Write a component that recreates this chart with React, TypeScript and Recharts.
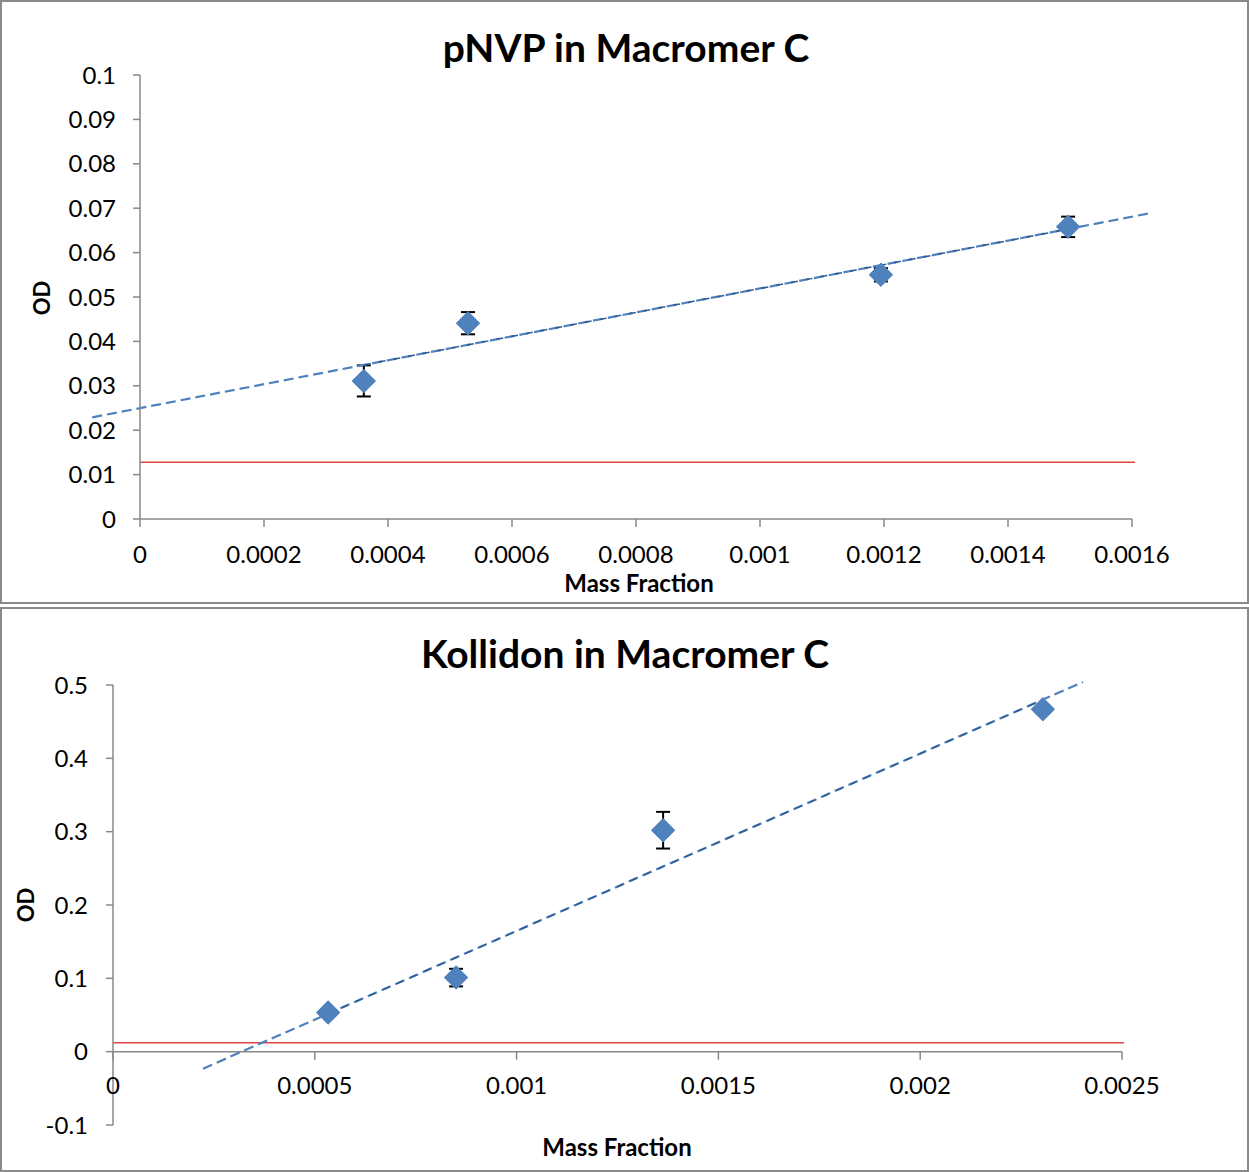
import React from "react";
import { ScatterChart, Scatter, XAxis, YAxis, ErrorBar, ReferenceLine } from "recharts";

const FONT = "Lato, 'Open Sans', sans-serif";
const BLUE = "#4F81BD";
const DARK_BLUE = "#2F5C91";
const RED = "#E0453F";
const AXIS = "#888888";

// pNVP in Macromer C
const pnvpMass = [0.000361, 0.000529, 0.001195, 0.001497];
const pnvpOD = [0.0311, 0.0441, 0.055, 0.0658];
const pnvpErr = [0.0035, 0.0025, 0.0015, 0.0023];
const pnvpTrendX = [-0.000077, 0.00163];
const pnvpTrendY = [0.0229, 0.0689];
const pnvpFitX = [0.000361, 0.001497];
const pnvpFitY = [0.0347, 0.0653];
const pnvpBlankX = [0, 0.001605];
const pnvpBlankY = 0.0128;
const pnvpXTicks = [0, 0.0002, 0.0004, 0.0006, 0.0008, 0.001, 0.0012, 0.0014, 0.0016];
const pnvpXLabels = ["0", "0.0002", "0.0004", "0.0006", "0.0008", "0.001", "0.0012", "0.0014", "0.0016"];
const pnvpYTicks = [0, 0.01, 0.02, 0.03, 0.04, 0.05, 0.06, 0.07, 0.08, 0.09, 0.1];
const pnvpYLabels = ["0", "0.01", "0.02", "0.03", "0.04", "0.05", "0.06", "0.07", "0.08", "0.09", "0.1"];

// Kollidon in Macromer C
const kolMass = [0.000533, 0.00085, 0.001363, 0.002304];
const kolOD = [0.0533, 0.101, 0.302, 0.467];
const kolErr = [0.003, 0.012, 0.025, 0.003];
const kolTrendX = [0.000223, 0.002403];
const kolTrendY = [-0.0232, 0.504];
const kolFitX = [0.000533, 0.002304];
const kolFitY = [0.0517, 0.4798];
const kolBlankX = [0, 0.002505];
const kolBlankY = 0.0123;
const kolXTicks = [0, 0.0005, 0.001, 0.0015, 0.002, 0.0025];
const kolXLabels = ["0", "0.0005", "0.001", "0.0015", "0.002", "0.0025"];
const kolYTicks = [-0.1, 0, 0.1, 0.2, 0.3, 0.4, 0.5];
const kolYLabels = ["-0.1", "0", "0.1", "0.2", "0.3", "0.4", "0.5"];
const kolYDomain = [-0.1, 0.5];

const pnvpData = pnvpMass.map((x, i) => ({ x, y: pnvpOD[i], err: pnvpErr[i] }));
const kolData = kolMass.map((x, i) => ({ x, y: kolOD[i], err: kolErr[i] }));

const tickStyle = { fill: "#000", fontSize: 24, fontFamily: FONT };

function Diamond(props: any) {
  const { cx, cy } = props;
  if (cx == null || cy == null) return null;
  const r = 12;
  return <path d={`M${cx},${cy - r}L${cx + r},${cy}L${cx},${cy + r}L${cx - r},${cy}Z`} fill={BLUE} />;
}

const KOL_H = 565;
const KOL_MARGIN = { top: 78, right: 127, bottom: 27, left: 53 };
const KOL_XAXIS_H = 20;
const kolPlotH = KOL_H - KOL_MARGIN.top - KOL_MARGIN.bottom - KOL_XAXIS_H;

function KolTick(props: any) {
  const { x, y, index } = props;
  const y0 = y - (kolPlotH * (0 - kolYDomain[0])) / (kolYDomain[1] - kolYDomain[0]);
  return (
    <g>
      <line x1={x} x2={x} y1={y0} y2={y0 + 8} stroke={AXIS} strokeWidth={1.5} />
      <text x={x} y={y0 + 42} textAnchor="middle" fontSize={24} fontFamily={FONT} fill="#000">
        {kolXLabels[index]}
      </text>
    </g>
  );
}

function PnvpChart() {
  return (
    <ScatterChart width={1249} height={604} margin={{ top: 75, right: 117, bottom: 45, left: 80 }}>
      <XAxis
        type="number"
        dataKey="x"
        domain={[0, 0.0016]}
        ticks={pnvpXTicks}
        interval={0}
        allowDataOverflow
        tickFormatter={(v: number, i: number) => pnvpXLabels[i]}
        stroke={AXIS}
        strokeWidth={1.5}
        tickSize={8}
        tickMargin={19}
        height={40}
        tick={tickStyle}
      />
      <YAxis
        type="number"
        dataKey="y"
        domain={[0, 0.1]}
        ticks={pnvpYTicks}
        interval={0}
        allowDataOverflow
        tickFormatter={(v: number, i: number) => pnvpYLabels[i]}
        stroke={AXIS}
        strokeWidth={1.5}
        tickSize={7}
        tickMargin={17}
        width={60}
        tick={tickStyle}
      />
      <ReferenceLine
        segment={[{ x: pnvpBlankX[0], y: pnvpBlankY }, { x: pnvpBlankX[1], y: pnvpBlankY }]}
        stroke={RED}
        strokeWidth={1.5}
        ifOverflow="visible"
      />
      <Scatter data={pnvpData} shape={Diamond} isAnimationActive={false}>
        <ErrorBar dataKey="err" direction="y" width={7} stroke="#000" strokeWidth={2} isAnimationActive={false} />
      </Scatter>
      <Scatter data={pnvpData} shape={Diamond} isAnimationActive={false} />
      <ReferenceLine
        segment={[{ x: pnvpTrendX[0], y: pnvpTrendY[0] }, { x: pnvpTrendX[1], y: pnvpTrendY[1] }]}
        stroke={BLUE}
        strokeWidth={2.2}
        strokeDasharray="10 5"
        ifOverflow="visible"
      />
      <ReferenceLine
        segment={[{ x: pnvpFitX[0], y: pnvpFitY[0] }, { x: pnvpFitX[1], y: pnvpFitY[1] }]}
        stroke={DARK_BLUE}
        strokeWidth={1.5}
        strokeDasharray="7 8"
        ifOverflow="visible"
      />
    </ScatterChart>
  );
}

function KolChart() {
  return (
    <ScatterChart width={1249} height={KOL_H} margin={KOL_MARGIN}>
      <XAxis
        type="number"
        dataKey="x"
        domain={[0, 0.0025]}
        ticks={kolXTicks}
        interval={0}
        allowDataOverflow
        axisLine={false}
        tickLine={false}
        tickSize={0}
        tickMargin={0}
        height={KOL_XAXIS_H}
        tick={<KolTick />}
      />
      <YAxis
        type="number"
        dataKey="y"
        domain={kolYDomain}
        ticks={kolYTicks}
        interval={0}
        allowDataOverflow
        tickFormatter={(v: number, i: number) => kolYLabels[i]}
        stroke={AXIS}
        strokeWidth={1.5}
        tickSize={7}
        tickMargin={18}
        width={60}
        tick={tickStyle}
      />
      <ReferenceLine y={0} stroke={AXIS} strokeWidth={1.5} />
      <ReferenceLine
        segment={[{ x: kolBlankX[0], y: kolBlankY }, { x: kolBlankX[1], y: kolBlankY }]}
        stroke={RED}
        strokeWidth={1.5}
        ifOverflow="visible"
      />
      <Scatter data={kolData} shape={Diamond} isAnimationActive={false}>
        <ErrorBar dataKey="err" direction="y" width={7} stroke="#000" strokeWidth={2} isAnimationActive={false} />
      </Scatter>
      <Scatter data={kolData} shape={Diamond} isAnimationActive={false} />
      <ReferenceLine
        segment={[{ x: kolTrendX[0], y: kolTrendY[0] }, { x: kolTrendX[1], y: kolTrendY[1] }]}
        stroke={BLUE}
        strokeWidth={2.2}
        strokeDasharray="10 5"
        ifOverflow="visible"
      />
      <ReferenceLine
        segment={[{ x: kolFitX[0], y: kolFitY[0] }, { x: kolFitX[1], y: kolFitY[1] }]}
        stroke={DARK_BLUE}
        strokeWidth={1.5}
        strokeDasharray="7 8"
        ifOverflow="visible"
      />
    </ScatterChart>
  );
}

const cardStyle: React.CSSProperties = {
  position: "absolute",
  left: 0,
  width: 1249,
  boxSizing: "border-box",
  border: "2px solid #8a8a8a",
  background: "#fff",
};

export default function App() {
  return (
    <div style={{ position: "absolute", left: 0, top: 0, width: 1249, height: 1172, background: "#fff" }}>
      <div style={{ ...cardStyle, top: 0, height: 604 }} />
      <div style={{ ...cardStyle, top: 607, height: 565 }} />
      <div style={{ position: "absolute", left: 0, top: 0 }}>
        <PnvpChart />
      </div>
      <div style={{ position: "absolute", left: 0, top: 607 }}>
        <KolChart />
      </div>
      <svg
        width={1249}
        height={1172}
        style={{ position: "absolute", left: 0, top: 0, pointerEvents: "none" }}
        fontFamily={FONT}
        fontWeight="bold"
      >
        <text x={626} y={62} textAnchor="middle" fontSize={39}>pNVP in Macromer C</text>
        <text x={639} y={592} textAnchor="middle" fontSize={24}>Mass Fraction</text>
        <text x={50} y={298} textAnchor="middle" fontSize={22} transform="rotate(-90 50 298)">OD</text>
        <text x={625} y={668} textAnchor="middle" fontSize={39}>Kollidon in Macromer C</text>
        <text x={617} y={1156} textAnchor="middle" fontSize={24}>Mass Fraction</text>
        <text x={34} y={905} textAnchor="middle" fontSize={22} transform="rotate(-90 34 905)">OD</text>
      </svg>
    </div>
  );
}
